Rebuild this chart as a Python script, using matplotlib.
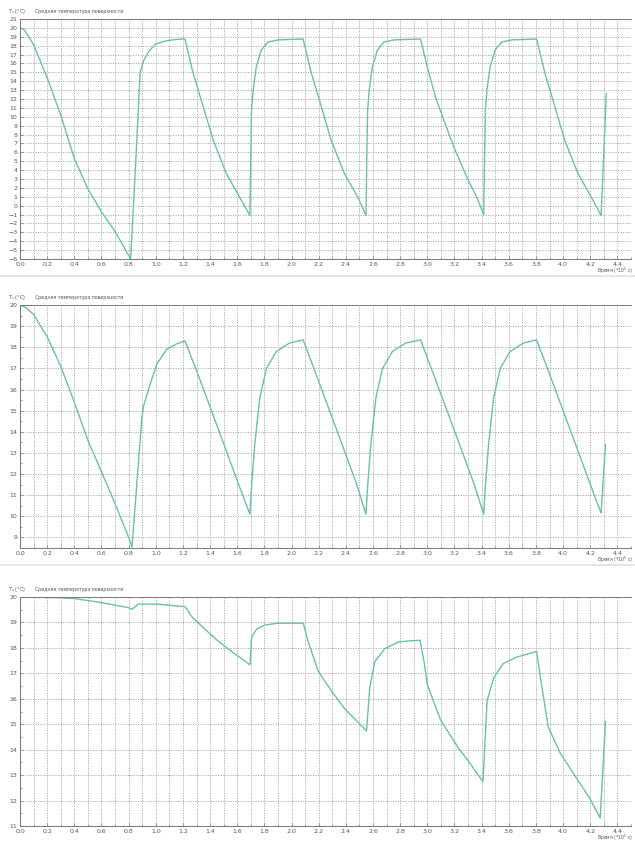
import numpy as np
import matplotlib.pyplot as plt
from matplotlib.ticker import MultipleLocator, FormatStrFormatter

# Average surface temperature, three runs (time in 10^5 s)

# top panel
time_top = [0.0, 0.03, 0.06, 0.10, 0.20, 0.30, 0.40, 0.50, 0.60, 0.70, 0.815,
            0.86, 0.885, 0.91, 0.95, 1.00, 1.08, 1.15, 1.215,
            1.275, 1.35, 1.425, 1.52, 1.62, 1.693,
            1.705, 1.717, 1.74, 1.777, 1.826, 1.90, 2.00, 2.085,
            2.146, 2.22, 2.293, 2.39, 2.49, 2.548,
            2.56, 2.572, 2.595, 2.632, 2.68, 2.755, 2.85, 2.95,
            3.00, 3.06, 3.195, 3.30, 3.366, 3.415,
            3.427, 3.439, 3.462, 3.499, 3.548, 3.62, 3.72, 3.805,
            3.866, 3.94, 4.013, 4.11, 4.21, 4.28,
            4.318]
temp_top = [20.0, 19.8, 19.1, 18.1, 14.4, 10.2, 5.3, 1.9, -0.7, -2.9, -6.0,
            7.2, 15.0, 16.3, 17.4, 18.2, 18.55, 18.7, 18.75,
            14.9, 11.1, 7.3, 3.6, 0.9, -1.1,
            10.7, 13.0, 15.6, 17.5, 18.4, 18.65, 18.7, 18.75,
            14.9, 11.1, 7.3, 3.6, 0.9, -1.1,
            10.7, 13.0, 15.6, 17.5, 18.4, 18.65, 18.7, 18.75,
            15.6, 12.2, 6.6, 2.9, 0.9, -1.0,
            10.7, 13.0, 15.6, 17.5, 18.4, 18.65, 18.7, 18.75,
            14.9, 11.1, 7.3, 3.6, 0.9, -1.1,
            12.6]

# middle panel
time_mid = [0.0, 0.05, 0.10, 0.20, 0.30, 0.40, 0.50, 0.60, 0.70, 0.80, 0.825,
            0.86, 0.896, 0.909, 0.946, 1.007, 1.08, 1.15, 1.215,
            1.312, 1.41, 1.508, 1.605, 1.693,
            1.705, 1.729, 1.766, 1.815, 1.888, 1.985, 2.085,
            2.182, 2.28, 2.378, 2.475, 2.548,
            2.56, 2.584, 2.621, 2.67, 2.743, 2.84, 2.95,
            3.047, 3.145, 3.243, 3.34, 3.415,
            3.427, 3.451, 3.488, 3.537, 3.61, 3.707, 3.805,
            3.902, 4.0, 4.098, 4.195, 4.28,
            4.312]
temp_mid = [20.0, 19.85, 19.55, 18.5, 17.1, 15.4, 13.6, 12.1, 10.6, 9.0, 8.55,
            11.5, 14.55, 15.2, 16.0, 17.2, 17.9, 18.15, 18.3,
            16.7, 15.0, 13.3, 11.6, 10.1,
            11.4, 13.4, 15.6, 17.0, 17.8, 18.2, 18.35,
            16.7, 15.0, 13.3, 11.6, 10.1,
            11.4, 13.4, 15.6, 17.0, 17.8, 18.2, 18.35,
            16.7, 15.0, 13.3, 11.6, 10.1,
            11.4, 13.4, 15.6, 17.0, 17.8, 18.2, 18.35,
            16.7, 15.0, 13.3, 11.6, 10.15,
            13.4]

# bottom panel
time_bot = [0.0, 0.295, 0.398, 0.60, 0.80, 0.823, 0.872, 1.007, 1.216,
            1.265, 1.327, 1.40, 1.474, 1.694,
            1.706, 1.743, 1.804, 1.902, 2.086,
            2.123, 2.197, 2.295, 2.393, 2.552,
            2.576, 2.613, 2.687, 2.785, 2.878, 2.946,
            2.976, 3.0, 3.098, 3.22, 3.317, 3.41,
            3.44, 3.488, 3.56, 3.66, 3.805,
            3.83, 3.89, 3.976, 4.10, 4.195, 4.273,
            4.312]
temp_bot = [20.0, 19.97, 19.94, 19.78, 19.58, 19.51, 19.72, 19.72, 19.62,
            19.23, 18.91, 18.55, 18.2, 17.33,
            18.42, 18.74, 18.9, 18.97, 18.97,
            18.23, 17.08, 16.3, 15.6, 14.74,
            16.44, 17.46, 17.97, 18.23, 18.28, 18.3,
            17.45, 16.56, 15.16, 14.14, 13.44, 12.74,
            15.92, 16.82, 17.39, 17.64, 17.86,
            16.94, 14.9, 13.89, 12.87, 12.1, 11.31,
            15.1]

title = 'Средняя температура поверхности'
xlabel = 'Время (*10$^5$ с)'
ylabel = 'T$_s$ (°C)'

W, H = 635, 843
LINE = '#6dbfa8'
GRID = '#a3a3a3'
TXT = '#555555'


def box(left, top, right, bottom):
    # pixel box -> figure fraction
    return [left / W, 1 - bottom / H, (right - left) / W, (bottom - top) / H]


def panel(fig, t, v, ylim, top, bottom, ymin_step, xlab_y):
    ax = fig.add_axes(box(20, top, 631, bottom))
    ax.plot(t, v, color=LINE, lw=1.0)
    ax.set_xlim(0, 4.5)
    ax.set_ylim(*ylim)

    ax.xaxis.set_major_locator(MultipleLocator(0.2))
    ax.xaxis.set_minor_locator(MultipleLocator(0.1))
    ax.xaxis.set_major_formatter(FormatStrFormatter('%.1f'))
    ax.yaxis.set_major_locator(MultipleLocator(1))
    if ymin_step:
        ax.yaxis.set_minor_locator(MultipleLocator(ymin_step))

    ax.xaxis.grid(True, which='both', color=GRID, ls=(0, (1.5, 1.5)), lw=0.6)
    ax.yaxis.grid(True, which='major', color=GRID, ls=(0, (1.5, 1.5)), lw=0.6)
    ax.set_axisbelow(True)

    ax.tick_params(which='both', direction='in', labelsize=4.5, labelcolor=TXT,
                   color='#777777', pad=2)
    ax.tick_params(which='major', length=2.5, width=0.5)
    ax.tick_params(which='minor', length=1.5, width=0.5)

    for s in ['left', 'bottom', 'top']:
        ax.spines[s].set_color('#777777')
        ax.spines[s].set_linewidth(0.7)
    ax.spines['right'].set_visible(False)

    # header text above the axis
    fig.text(8 / W, 1 - (top - 7) / H, ylabel, fontsize=3.6, color=TXT, va='center')
    fig.text(35 / W, 1 - (top - 7) / H, title, fontsize=3.4, color=TXT, va='center')
    fig.text(633 / W, 1 - xlab_y / H, xlabel, fontsize=3.3, color=TXT,
             ha='right', va='center')
    return ax


fig = plt.figure(figsize=(W / 100, H / 100), dpi=100)
fig.patch.set_facecolor('white')

panel(fig, time_top, temp_top, (-6, 21), 19, 259, None, 271)
panel(fig, time_mid, temp_mid, (8.5, 20), 305, 548, 0.5, 560)
panel(fig, time_bot, temp_bot, (11, 20), 597, 826, 0.5, 838)

# thin separators between the screenshots
for y in [276, 565]:
    fig.add_artist(plt.Line2D([0, 1], [1 - y / H, 1 - y / H], color='#dde2e8', lw=1.2))

fig.savefig('out.png', dpi=100)
